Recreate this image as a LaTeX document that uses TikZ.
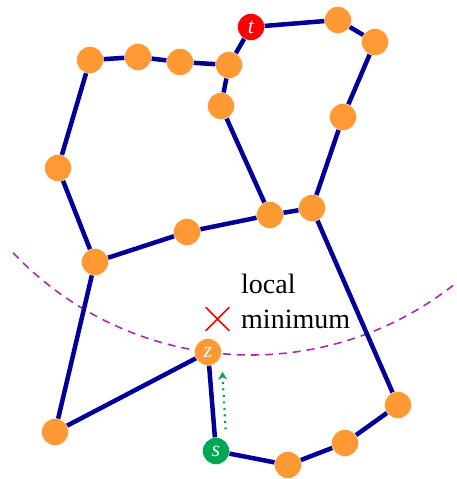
\documentclass[tikz,border=0pt]{standalone}
\usepackage{fontspec}
\setmainfont{Liberation Serif}
\newfontfamily\timesfont{Liberation Serif}
\usepackage{tikz}
\usetikzlibrary{arrows.meta,shapes.misc,backgrounds}
\definecolor{vorange}{RGB}{255,153,51}
\definecolor{edgeblue}{RGB}{0,0,153}
\definecolor{sgreen}{RGB}{0,166,81}
\definecolor{arcpurple}{RGB}{175,40,175}

\begin{document}
\begin{tikzpicture}[x=1pt, y=-1pt,
    vertex/.style={circle, fill=vorange, draw=white, line width=0.4pt, minimum size=27pt, inner sep=0pt,
                   text=white, font=\timesfont\fontsize{22}{22}\selectfont\itshape},
    link/.style={edgeblue, line width=4.5pt}]
  \useasboundingbox (0,0) rectangle (456,479);

  \node[vertex, fill=red] (t) at (251,27) {t};
  \node[vertex] (a1) at (338,20) {};
  \node[vertex] (a2) at (375,42) {};
  \node[vertex] (a3) at (343,117) {};
  \node[vertex] (a4) at (312,208) {};
  \node[vertex] (b1) at (229,65) {};
  \node[vertex] (b2) at (180,62) {};
  \node[vertex] (b3) at (138,57) {};
  \node[vertex] (b4) at (90,60) {};
  \node[vertex] (b5) at (58,168) {};
  \node[vertex] (b6) at (95,262) {};
  \node[vertex] (c1) at (221,106) {};
  \node[vertex] (c2) at (270,215) {};
  \node[vertex] (c3) at (187,232) {};
  \node[vertex] (d1) at (55,432) {};
  \node[vertex] (z) at (208,352) {z};
  \node[vertex, fill=sgreen] (s) at (216,451) {s};
  \node[vertex] (e1) at (288,465) {};
  \node[vertex] (e2) at (345,443) {};
  \node[vertex] (e3) at (398,405) {};

  \begin{pgfonlayer}{background}
    % dashed arc round t, through z
    \begin{scope}
      \clip (0,0) rectangle (456,479);
      \draw[arcpurple, dash pattern=on 8pt off 6pt, line width=1.6pt]
        (t.center) ++(136.5:328) arc[start angle=136.5, end angle=40, radius=328];
    \end{scope}
    % edges
    \draw[link] (t.center) -- (a1.center) -- (a2.center) -- (a3.center) -- (a4.center);
    \draw[link] (t.center) -- (b1.center) -- (b2.center) -- (b3.center) -- (b4.center) -- (b5.center) -- (b6.center);
    \draw[link] (b1.center) -- (c1.center) -- (c2.center);
    \draw[link] (b6.center) -- (c3.center) -- (c2.center) -- (a4.center);
    \draw[link] (a4.center) -- (e3.center) -- (e2.center) -- (e1.center) -- (s.center) -- (z.center) -- (d1.center) -- (b6.center);
  \end{pgfonlayer}

  % dotted move from s towards z
  \draw[-{Stealth[length=8pt,width=9pt]}, sgreen, dash pattern=on 2pt off 4.5pt, line width=2.2pt, shorten <=8pt, shorten >=6pt]
    ([xshift=10pt]s.north) -- ([xshift=14pt]z.south);

  % label
  \node[cross out, draw=red, line width=1.6pt, minimum size=22pt, inner sep=0pt] (xmark) at (217.5,319) {};
  \node[anchor=base west, font=\timesfont\fontsize{28}{30}\selectfont, inner sep=0pt] (lbl1) at (241,293) {local};
  \node[anchor=base west, font=\timesfont\fontsize{28}{30}\selectfont, inner sep=0pt] (lbl2) at (241,328) {minimum};
\end{tikzpicture}
\end{document}
